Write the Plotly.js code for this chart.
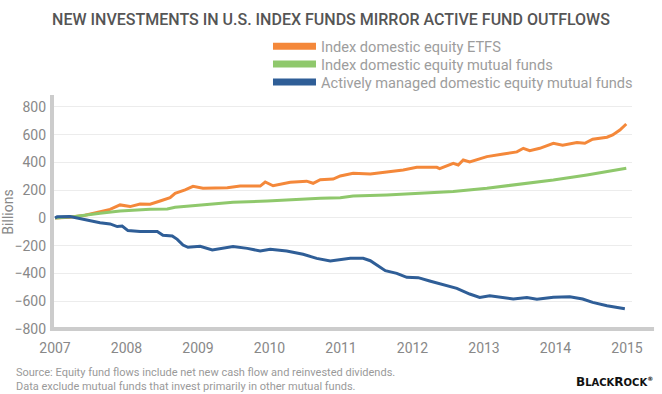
<!DOCTYPE html>
<html>
<head>
<meta charset="utf-8">
<script src="https://cdn.plot.ly/plotly-3.0.1.min.js"></script>
<style>html,body{margin:0;padding:0;background:#fff;}#chart{width:662px;height:394px;}</style>
</head>
<body>
<div id="chart"></div>
<script>
// Index domestic equity ETFs (cumulative flows, $ billions)
const etfYears = [2007.00,2007.21,2007.42,2007.63,2007.77,2007.91,2008.05,2008.19,2008.33,2008.47,2008.61,2008.68,2008.82,2008.93,2009.07,2009.41,2009.59,2009.87,2009.94,2010.05,2010.29,2010.52,2010.61,2010.71,2010.89,2010.99,2011.17,2011.41,2011.64,2011.87,2012.06,2012.34,2012.38,2012.57,2012.64,2012.71,2012.80,2013.04,2013.27,2013.46,2013.55,2013.64,2013.78,2013.97,2014.10,2014.30,2014.41,2014.52,2014.72,2014.80,2014.90,2014.99];
const etfValues = [0,5,20,45,62,94,82,101,99,122,146,178,202,228,214,218,230,230,259,232,257,265,250,276,280,303,322,317,331,346,365,365,355,394,382,418,404,442,461,476,502,485,502,538,524,543,538,567,582,598,634,677];

// Index domestic equity mutual funds
const mfYears = [2007.00,2007.28,2007.63,2007.91,2008.33,2008.57,2008.68,2009.03,2009.49,2009.97,2010.43,2010.71,2010.99,2011.17,2011.64,2012.10,2012.57,2013.04,2013.50,2013.97,2014.44,2014.99];
const mfValues = [0,10,34,50,62,65,77,94,113,122,137,142,146,158,166,178,190,214,243,274,310,358];

// Actively managed domestic equity mutual funds
const activeYears = [2007.00,2007.03,2007.21,2007.28,2007.39,2007.53,2007.63,2007.77,2007.87,2007.94,2008.02,2008.19,2008.43,2008.51,2008.64,2008.71,2008.79,2008.86,2008.93,2009.03,2009.20,2009.49,2009.69,2009.87,2010.01,2010.24,2010.47,2010.66,2010.85,2010.99,2011.13,2011.31,2011.41,2011.62,2011.78,2011.92,2012.08,2012.24,2012.43,2012.62,2012.80,2012.94,2013.08,2013.41,2013.60,2013.74,2013.97,2014.20,2014.38,2014.52,2014.72,2014.97];
const activeValues = [0,8,10,2,-7,-22,-34,-43,-62,-58,-91,-98,-98,-125,-130,-154,-195,-211,-206,-204,-231,-206,-219,-238,-226,-238,-262,-291,-310,-298,-291,-291,-308,-380,-399,-428,-430,-454,-478,-507,-548,-572,-560,-584,-574,-586,-572,-567,-584,-608,-632,-654];

const seriesNames = ["Index domestic equity ETFS","Index domestic equity mutual funds","Actively managed domestic equity mutual funds"];
const seriesColors = ["#f4883a","#8fc86c","#2f5e97"];

const xTickVals = [2007,2008,2009,2010,2011,2012,2013,2014,2015];
const xTickText = ["2007","2008","2009","2010","2011","2012","2013","2014","2015"];
const yTickVals = [-800,-600,-400,-200,0,200,400,600,800];

const xs = [etfYears, mfYears, activeYears];
const ys = [etfValues, mfValues, activeValues];
const legendIds = ["legend", "legend2", "legend3"];

const traces = [];
for (let i = 0; i < 3; i++) {
  traces.push({
    type: "scatter", mode: "lines", x: xs[i], y: ys[i], name: seriesNames[i],
    line: {color: seriesColors[i], width: 3}, showlegend: false, hoverinfo: "skip"
  });
}
for (let i = 0; i < 3; i++) {
  traces.push({
    type: "scatter", mode: "lines", x: [null], y: [null], name: seriesNames[i],
    line: {color: seriesColors[i], width: 7}, showlegend: true, legend: legendIds[i]
  });
}

const font = "Roboto, 'Open Sans', sans-serif";
const legendFont = {family: font, size: 14.6, color: "#9d9d9d"};
const legendRowsY = [1.2086, 1.1325, 1.0556];
function legendBox(y) {
  return {x: 0.3724, xanchor: "left", y: y, yanchor: "middle", font: legendFont,
          itemwidth: 43, bgcolor: "rgba(0,0,0,0)", borderwidth: 0};
}

const layout = {
  width: 662, height: 394,
  margin: {l: 52, r: 30, t: 95, b: 65},
  paper_bgcolor: "#ffffff", plot_bgcolor: "#ffffff",
  font: {family: font, color: "#8a8a8a", size: 14},
  title: {
    text: "NEW INVESTMENTS IN U.S. INDEX FUNDS MIRROR ACTIVE FUND OUTFLOWS",
    font: {family: font, size: 16, color: "#555555", weight: 500},
    x: 0.5, xref: "container", xanchor: "center",
    y: 0.95, yref: "container", yanchor: "middle"
  },
  showlegend: true,
  legend: legendBox(legendRowsY[0]),
  legend2: legendBox(legendRowsY[1]),
  legend3: legendBox(legendRowsY[2]),
  xaxis: {
    range: [2006.958, 2015.07], tickmode: "array", tickvals: xTickVals, ticktext: xTickText,
    showgrid: false, zeroline: false, showline: false, ticks: "",
    tickfont: {family: font, size: 14, color: "#888888"}, ticklabelstandoff: 9, fixedrange: true
  },
  yaxis: {
    range: [-800, 886], tickmode: "array", tickvals: yTickVals,
    showgrid: true, gridcolor: "#ececec", gridwidth: 1, zeroline: false, showline: false, ticks: "",
    tickfont: {family: font, size: 14, color: "#888888"}, ticklabelstandoff: 5,
    title: {text: "Billions", font: {family: font, size: 14, color: "#888888"}, standoff: 6},
    fixedrange: true
  },
  shapes: [
    {type: "line", xref: "paper", yref: "paper", x0: 0, x1: 0, y0: 0, y1: 1, line: {color: "#cccccc", width: 4}},
    {type: "line", xref: "paper", yref: "paper", x0: -0.0035, x1: 1.038, y0: 0, y1: 0, line: {color: "#cccccc", width: 4}}
  ],
  annotations: [
    {
      text: "Source: Equity fund flows include net new cash flow and reinvested dividends.<br>Data exclude mutual funds that invest primarily in other mutual funds.",
      xref: "paper", yref: "paper", x: -0.0655, y: -0.149, xanchor: "left", yanchor: "top",
      align: "left", showarrow: false, font: {family: font, size: 11, color: "#9a9a9a"}
    },
    {
      text: "B<span style=\"font-size:10px\">LACK</span>R<span style=\"font-size:10px\">OCK</span><sup><span style=\"font-size:6px\">®</span></sup>",
      xref: "paper", yref: "paper", x: 1.04, y: -0.227, xanchor: "right", yanchor: "middle",
      showarrow: false, font: {family: "'DejaVu Sans', sans-serif", size: 12, color: "#111111", weight: 700}
    }
  ]
};

Plotly.newPlot("chart", traces, layout, {displayModeBar: false, staticPlot: true});
</script>
</body>
</html>
